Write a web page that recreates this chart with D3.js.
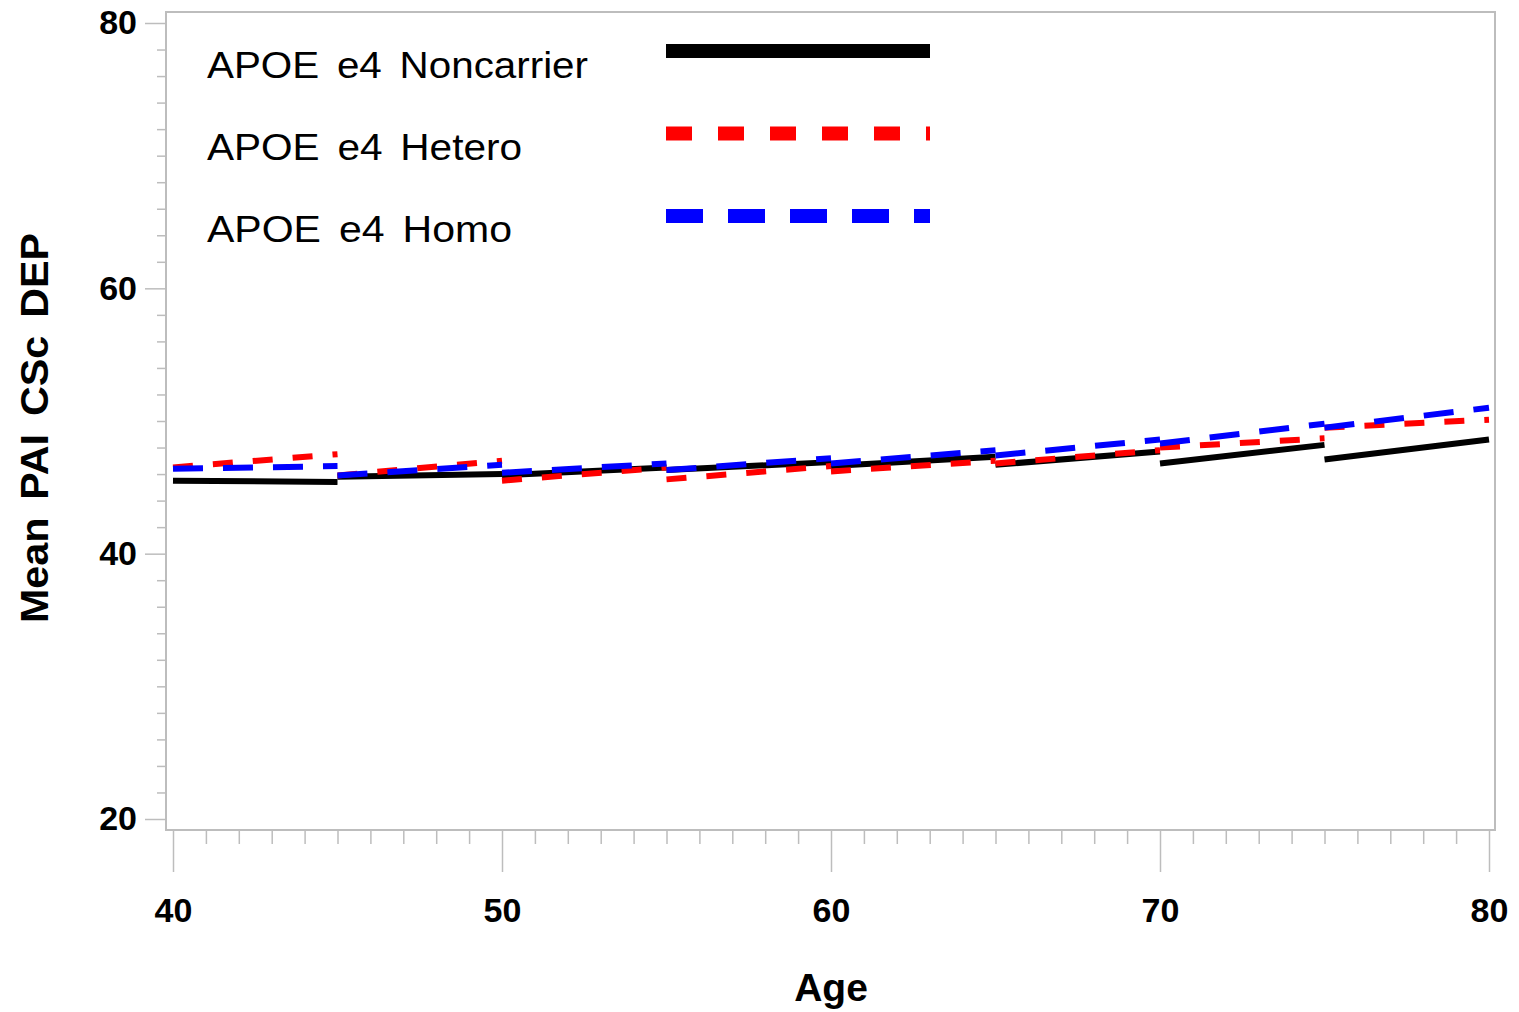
<html>
<head>
<script src="https://cdn.jsdelivr.net/npm/d3@7"></script>
<style>
  body { margin: 0; background: #fff; }
  text { font-family: "Liberation Sans", Arial, sans-serif; }
</style>
</head>
<body>
<div id="chart"></div>
<script>
// age intervals - each group is drawn as a separate piece per interval
const intervals = [[40,45],[45,50],[50,55],[55,60],[60,65],[65,70],[70,75],[75,80]];

// [value at start, value at end] of each interval
const noncarrier = [[45.5,45.4],[45.8,46.0],[45.9,46.5],[46.3,46.9],[46.6,47.3],[46.7,47.7],[46.8,48.2],[47.1,48.6]];
const hetero     = [[46.5,47.5],[45.9,47.0],[45.5,46.5],[45.6,46.6],[46.2,47.0],[46.8,47.8],[48.0,48.7],[49.5,50.1]];
const homo       = [[46.4,46.6],[45.9,46.7],[46.1,46.8],[46.3,47.2],[46.8,47.8],[47.4,48.6],[48.3,49.8],[49.5,51.0]];

const groups = ["APOE e4 Noncarrier", "APOE e4 Hetero", "APOE e4 Homo"];
const xTicks = [40, 50, 60, 70, 80];
const yTicks = [20, 40, 60, 80];

const W = 1519, H = 1012;
const svg = d3.select("#chart").append("svg").attr("width", W).attr("height", H);

const x = d3.scaleLinear().domain([40, 80]).range([173, 1489]);
const y = d3.scaleLinear().domain([20, 80]).range([819, 23]);

const frame = {left: 166, right: 1495, top: 12, bottom: 830};
const gridGray = "#bdbdbd";

// plot frame
svg.append("rect")
    .attr("x", frame.left).attr("y", frame.top)
    .attr("width", frame.right - frame.left).attr("height", frame.bottom - frame.top)
    .attr("fill", "none").attr("stroke", gridGray).attr("stroke-width", 2);

// x axis: major + minor ticks
const xMinor = d3.range(40, 81, 1).filter(d => d % 10 !== 0);
const xAxis = svg.append("g").attr("transform", `translate(0,${frame.bottom})`);
xAxis.call(d3.axisBottom(x).tickValues(xTicks).tickSize(42).tickPadding(26).tickFormat(d3.format("d")));
xAxis.append("g").call(d3.axisBottom(x).tickValues(xMinor).tickSize(14).tickFormat(""));
xAxis.selectAll(".domain").remove();
xAxis.selectAll("line").attr("stroke", gridGray).attr("stroke-width", 1.5);
xAxis.selectAll("text").attr("fill", "#000").style("font-size", "34px").style("font-weight", "bold");

// y axis
const yMinor = d3.range(20, 81, 2).filter(d => d % 20 !== 0);
const yAxis = svg.append("g").attr("transform", `translate(${frame.left},0)`);
yAxis.call(d3.axisLeft(y).tickValues(yTicks).tickSize(21).tickPadding(8).tickFormat(d3.format("d")));
yAxis.append("g").call(d3.axisLeft(y).tickValues(yMinor).tickSize(9).tickFormat(""));
yAxis.selectAll(".domain").remove();
yAxis.selectAll("line").attr("stroke", gridGray).attr("stroke-width", 1.5);
yAxis.selectAll("text").attr("fill", "#000").style("font-size", "34px").style("font-weight", "bold");

// axis titles
svg.append("text")
    .attr("x", 831).attr("y", 1001)
    .attr("text-anchor", "middle")
    .style("font-size", "39px").style("font-weight", "bold")
    .text("Age");

svg.append("text")
    .attr("transform", "translate(48,428) rotate(-90)")
    .attr("text-anchor", "middle")
    .attr("textLength", 390).attr("lengthAdjust", "spacingAndGlyphs")
    .style("font-size", "38px").style("font-weight", "bold")
    .style("word-spacing", "6px")
    .text("Mean PAI CSc DEP");

// series
const series = [
  {name: groups[0], data: noncarrier, color: "#000000", dash: null, legDash: null},
  {name: groups[1], data: hetero, color: "#ff0000", dash: "20,20", legDash: "26,26"},
  {name: groups[2], data: homo, color: "#0000ff", dash: "30,20", legDash: "37,25"}
];

const line = d3.line().x(d => x(d[0])).y(d => y(d[1]));

series.forEach(s => {
  svg.append("g")
    .selectAll("path")
    .data(intervals.map((iv, i) => [[iv[0], s.data[i][0]], [iv[1], s.data[i][1]]]))
    .enter()
    .append("path")
    .attr("d", line)
    .attr("fill", "none")
    .attr("stroke", s.color)
    .attr("stroke-width", 6)
    .attr("stroke-dasharray", s.dash);
});

// legend
const legendLen = [381, 315, 305];
const leg = svg.append("g");
series.forEach((s, i) => {
  const ty = 78 + i * 82;
  leg.append("text")
    .attr("x", 207).attr("y", ty)
    .attr("textLength", legendLen[i]).attr("lengthAdjust", "spacingAndGlyphs")
    .style("font-size", "37px")
    .style("word-spacing", "6px")
    .text(s.name);
  leg.append("line")
    .attr("x1", 666).attr("x2", 930)
    .attr("y1", 51 + i * 82.5).attr("y2", 51 + i * 82.5)
    .attr("stroke", s.color)
    .attr("stroke-width", 14)
    .attr("stroke-dasharray", s.legDash);
});
</script>
</body>
</html>
